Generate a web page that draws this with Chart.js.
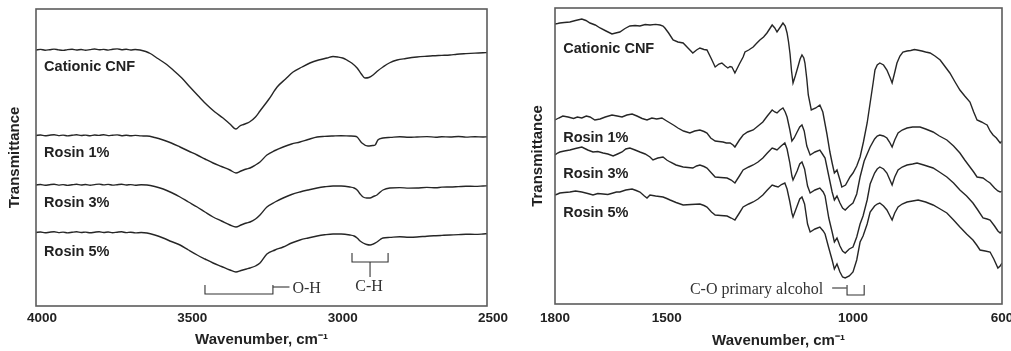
<!DOCTYPE html>
<html>
<head>
<meta charset="utf-8">
<title>FTIR spectra - cationic CNF and rosin</title>
<script src="https://cdn.jsdelivr.net/npm/chart.js@4.4.1/dist/chart.umd.min.js"></script>
<style>
    html, body { margin: 0; padding: 0; background: #fff; overflow: hidden; }
    #wrap { position: relative; width: 1011px; height: 351px; overflow: hidden; }
    .panel { position: absolute; top: 0; }
    #panel-high { left: 0; }
    #panel-low { left: 500px; }
</style>
</head>
<body>
<div id="wrap">
    <div class="panel" id="panel-high"><canvas id="ftir-high" width="520" height="351"></canvas></div>
    <div class="panel" id="panel-low"><canvas id="ftir-low" width="520" height="351"></canvas></div>
</div>
<script>
// 시리즈 이름
const seriesNames = ['Cationic CNF', 'Rosin 1%', 'Rosin 3%', 'Rosin 5%'];

// x축 눈금 (cm-1)
const highTicks = [4000, 3500, 3000, 2500];
const lowTicks = [1800, 1500, 1000, 600];

// 4000-2500 cm-1 구간 [파수, 투과율(a.u., 오프셋 포함)]
const cnfHigh = [[4000,256],[3985,256.6],[3970,255.8],[3955,256.3],[3940,256.9],[3925,256.1],[3910,255.6],[3895,256.4],[3880,256.8],[3865,256.0],[3850,256.5],[3835,255.7],[3820,256.4],[3805,257.0],[3790,256.2],[3775,256.6],[3760,255.9],[3745,256.7],[3730,257.1],[3715,256.3],[3700,256.8],[3685,256.0],[3670,256.5],[3654,256],[3635,254.5],[3620,252.5],[3598,248],[3570,242.5],[3544,236],[3515,228],[3488,219],[3460,210],[3431,201],[3405,194],[3378,188],[3355,182],[3335,177],[3322,180],[3310,181.5],[3290,184],[3270,189],[3255,195],[3225,207],[3198,219],[3170,227],[3145,234],[3115,239],[3089,243],[3060,246],[3032,248],[3012,249.5],[2996,249],[2980,248],[2966,246],[2950,243],[2932,238],[2918,232],[2906,228],[2893,228.5],[2879,231],[2862,235.5],[2846,239],[2825,243],[2799,246],[2770,247.5],[2733,249],[2700,249.8],[2680,250.2],[2650,250.6],[2623,251],[2600,251.8],[2570,252.4],[2540,252.9],[2513,253.2],[2500,253.5]];
const r1High = [[4000,170.5],[3985,171],[3970,170.2],[3955,170.8],[3940,171.3],[3925,170.4],[3910,170.9],[3895,170.1],[3880,170.7],[3865,171.2],[3850,170.5],[3835,170.9],[3820,170.2],[3805,171.0],[3790,170.6],[3775,171.3],[3760,170.4],[3745,170.8],[3730,171.1],[3715,170.3],[3700,170.7],[3685,170.2],[3670,170.6],[3650,170.1],[3631,170],[3605,168.5],[3577,166],[3550,163],[3521,159],[3493,155],[3464,151],[3438,147],[3411,143],[3383,139.5],[3355,136],[3335,133],[3318,135],[3300,137],[3288,138],[3270,141],[3255,144],[3232,151],[3205,155.5],[3178,159],[3150,162],[3122,164],[3095,166.5],[3065,169],[3040,169.6],[3012,170],[2985,170.3],[2956,170],[2940,169.8],[2932,169],[2916,163],[2896,160],[2880,160.5],[2872,161],[2863,166],[2846,168],[2820,168.6],[2790,169.2],[2760,168.7],[2733,169],[2700,169.4],[2670,168.8],[2650,169.3],[2623,169],[2595,169.5],[2570,168.9],[2540,169.3],[2513,169],[2500,169.2]];
const r3High = [[4000,121],[3985,121.5],[3970,120.7],[3955,121.3],[3940,121.8],[3925,120.9],[3910,121.4],[3895,120.6],[3880,121.2],[3865,121.7],[3850,121.0],[3835,121.5],[3820,120.8],[3805,121.4],[3790,121.9],[3775,121.1],[3760,121.6],[3745,120.9],[3730,121.3],[3715,121.7],[3700,121.0],[3685,121.4],[3670,120.8],[3650,121.2],[3631,121],[3605,119.5],[3577,117],[3550,113.5],[3521,109],[3493,104],[3464,99],[3438,94],[3411,89],[3383,85],[3355,81],[3335,79],[3318,81],[3300,83],[3288,84],[3270,87],[3255,91],[3232,99],[3205,104],[3178,108],[3150,111.5],[3122,114],[3095,116],[3065,118],[3040,119.2],[3012,120],[2985,120],[2956,119],[2942,118],[2932,116],[2922,112],[2912,109],[2900,108],[2889,108],[2878,109.5],[2866,111],[2855,114],[2846,116],[2823,118],[2790,118.4],[2760,117.9],[2733,118],[2700,118.6],[2670,118.2],[2650,118.9],[2623,119],[2595,119.4],[2570,119.8],[2540,119.6],[2513,120],[2500,120.2]];
const r5High = [[4000,73.5],[3985,74],[3970,73.2],[3955,73.8],[3940,74.3],[3925,73.4],[3910,73.9],[3895,73.1],[3880,73.7],[3865,74.2],[3850,73.5],[3835,73.9],[3820,73.2],[3805,73.8],[3790,74.3],[3775,73.5],[3760,74],[3745,73.3],[3730,73.8],[3715,74.2],[3700,73.4],[3685,73.8],[3670,73.1],[3650,73.5],[3631,73],[3605,71],[3577,68],[3550,64.5],[3521,61],[3493,56],[3464,51],[3438,47],[3411,43],[3383,39.5],[3355,36],[3335,34],[3318,35.5],[3300,37],[3288,38],[3270,40],[3255,43],[3232,52],[3205,56],[3178,59],[3150,63],[3122,66],[3095,68],[3065,70],[3040,71.2],[3012,72],[2985,72],[2956,71],[2942,70],[2932,68],[2922,65],[2912,63],[2900,61.5],[2889,61],[2878,62],[2866,64],[2855,66.5],[2846,68],[2823,68.6],[2790,69.2],[2760,68.8],[2733,69],[2700,69.8],[2670,70.3],[2650,70.6],[2623,71],[2595,71.4],[2570,71.8],[2540,71.6],[2513,72],[2500,72.3]];

// 1800-600 cm-1 구간
const cnfLow = [[1800,280],[1793,280.5],[1787,281],[1775,281.5],[1760,282],[1745,283.5],[1728,285],[1717,283.5],[1706,281],[1692,279],[1679,276],[1663,273],[1647,270],[1637,271],[1626,272],[1612,275.5],[1599,278],[1585,278.5],[1572,278],[1558,279.5],[1545,279],[1530,279.6],[1518,279],[1510,278],[1505,276],[1495,271],[1483,264],[1470,262],[1456,261],[1443,256],[1430,251],[1420,254],[1411,256],[1400,254.5],[1392,254],[1380,245],[1370,237],[1360,240],[1352,241],[1343,238],[1336,236],[1330,237.5],[1325,237],[1317,231],[1305,240],[1295,247],[1290,252],[1280,254],[1268,257],[1258,261],[1250,264],[1240,267],[1231,271],[1224,275],[1217,279],[1210,276],[1204,272],[1195,277],[1188,281],[1182,278],[1177,271],[1173,262],[1169,250],[1165,233],[1161,221],[1155,228],[1148,237],[1142,245],[1137,249],[1132,246],[1129,241],[1124,225],[1120,209],[1112,194],[1100,196],[1089,199],[1081,192],[1070,170],[1062,152],[1056,141],[1050,131],[1043,134],[1035,124],[1030,117],[1020,119],[1008,127],[1000,131],[990,138],[981,147],[972,162],[962,181],[954,201],[946,221],[941,234],[935,239],[928,241],[918,239],[909,234],[900,226],[895,221],[889,230],[882,241],[874,248],[866,252],[855,253],[845,253.5],[835,254.5],[828,254],[815,253],[805,252],[793,251],[780,248],[766,244],[752,237],[740,231],[726,222],[713,214],[700,208],[686,202],[676,192],[667,184],[655,182],[645,180],[640,179],[632,173],[624,169],[615,166],[605,161],[600,163]];
const r1Low = [[1800,184],[1790,186],[1779,188],[1765,187],[1750,185.5],[1740,187],[1728,186],[1716,188],[1706,187],[1693,184],[1679,185],[1665,187],[1647,189],[1633,188],[1620,187],[1607,189],[1593,190],[1580,188],[1566,185.5],[1553,184],[1540,186],[1527,185],[1513,186],[1500,183],[1491,181],[1480,178.5],[1470,176],[1455,173],[1438,171],[1425,173],[1411,174],[1400,172.5],[1392,171],[1382,166],[1370,163],[1360,162.5],[1349,162],[1340,161],[1330,161],[1322,159],[1317,157],[1305,164],[1295,169],[1283,172],[1268,174],[1255,178],[1242,182],[1230,188],[1217,194],[1210,192],[1204,191],[1196,194],[1188,196],[1182,192],[1177,187],[1170,175],[1164,163],[1158,166],[1150,172],[1143,177],[1137,179],[1131,173],[1124,158],[1115,149],[1102,152],[1089,154],[1082,150],[1075,146],[1065,128],[1056,112],[1050,104],[1043,108],[1035,101],[1028,96],[1021,94],[1010,98],[1000,101],[990,110],[981,127],[970,143],[962,150],[954,157],[942,165],[935,168],[928,169],[918,168],[909,166],[902,162],[895,157],[888,164],[879,171],[868,174],[855,176],[840,177],[820,177],[805,175],[785,172],[768,168],[748,164],[730,158],[713,151],[700,144],[686,137],[676,132],[667,127],[659,126.5],[651,126],[640,123],[632,121],[620,116],[611,113],[605,112],[600,113]];
const r3Low = [[1800,149],[1793,151],[1787,152],[1775,153],[1760,154],[1745,155.5],[1728,157],[1712,154],[1698,152],[1685,152.5],[1671,151],[1658,150],[1644,148],[1632,150],[1620,152],[1610,155],[1599,156],[1585,154],[1572,152],[1558,150],[1545,147],[1537,144],[1524,146],[1510,147],[1500,144],[1491,142],[1475,139],[1456,137],[1443,136.5],[1430,136],[1420,138],[1411,139],[1400,137.5],[1392,136],[1380,131],[1370,127],[1355,126.5],[1338,126],[1327,124],[1317,121],[1305,128],[1295,134],[1280,137],[1268,139],[1255,142],[1242,146],[1230,151],[1217,156],[1210,155],[1204,154],[1193,158],[1183,161],[1177,155],[1170,142],[1164,128],[1161,124],[1150,133],[1143,140],[1137,142],[1130,135],[1122,118],[1115,111],[1102,114],[1089,116],[1080,112],[1075,108],[1065,86],[1056,72],[1050,62],[1043,66],[1035,58],[1028,53],[1021,51],[1010,55],[1000,57],[990,67],[981,80],[973,88],[962,104],[954,120],[942,131],[935,135],[928,137],[918,135],[909,131],[902,125],[895,119],[888,127],[879,134],[868,137],[855,139],[840,140],[828,141],[810,139],[785,136],[768,132],[748,127],[730,121],[713,114],[695,108],[678,101],[665,94],[651,86],[640,85],[632,84],[620,78],[611,73],[605,71],[600,73]];
const r5Low = [[1800,109],[1793,110],[1787,111],[1775,111.5],[1760,112],[1745,113],[1728,112],[1712,110.5],[1698,109],[1685,110.5],[1671,110],[1658,109.5],[1644,111],[1635,112],[1626,112],[1610,114],[1593,115],[1582,113.5],[1572,112],[1560,108],[1553,106],[1545,109],[1530,108],[1510,107],[1500,105.5],[1491,104],[1475,101.5],[1456,99],[1435,99.5],[1411,100],[1400,98.5],[1392,97],[1380,92],[1370,89],[1355,88.5],[1338,88],[1327,86],[1317,84],[1305,91],[1295,97],[1280,100],[1268,102],[1255,105],[1242,109],[1230,114],[1217,119],[1210,118],[1201,117],[1192,119.5],[1183,121],[1177,115],[1170,103],[1164,91],[1161,87],[1150,98],[1143,105],[1137,107],[1130,100],[1122,80],[1115,72],[1102,75],[1089,77],[1080,73],[1075,70],[1065,56],[1056,44],[1050,35],[1043,40],[1035,32],[1028,27],[1021,26],[1010,28],[1000,32],[990,44],[981,62],[973,68],[962,80],[954,92],[942,98],[935,100],[928,101],[918,98],[909,94],[902,89],[895,84],[888,91],[879,97],[868,100],[855,102],[840,103],[825,104],[805,102],[785,99],[766,95],[748,91],[730,84],[713,77],[695,70],[678,64],[668,59],[659,54],[645,53],[632,52],[622,45],[611,36],[605,38],[600,41]];

// 밴드 표시 (괄호, 지시선)
const ohBracket = [[3438,21],[3438,12],[3212,12],[3212,21]];
const ohLead = [[3212,19],[3157,19]];
const chBracket = [[2949,53],[2949,44],[2829,44],[2829,53]];
const chStem = [[2889,44],[2889,29]];
const coLead = [[1056,16],[1017,16]];
const coBracket = [[1016,19],[1016,9],[970,9],[970,19]];

const INK = '#262626';
const SANS = "'Liberation Sans', Arial, sans-serif";
const SERIF = "'Liberation Serif', 'Times New Roman', serif";

/**
 * 시리즈 이름, 밴드 표시, 테두리를 그리는 플러그인
 */
function makeAnnotations(labels, paths, notes) {
    return {
        id: 'annotations',
        afterDatasetsDraw(chart) {
            const { ctx, chartArea, scales: { x, y } } = chart;
            ctx.save();

            // 테두리
            ctx.strokeStyle = '#5c5c5c';
            ctx.lineWidth = 1.6;
            ctx.strokeRect(chartArea.left, chartArea.top,
                chartArea.right - chartArea.left, chartArea.bottom - chartArea.top);

            // 시리즈 이름
            ctx.fillStyle = '#222';
            ctx.font = 'bold 14.5px ' + SANS;
            ctx.textBaseline = 'middle';
            ctx.textAlign = 'left';
            labels.forEach(l => {
                ctx.fillText(l.text, x.getPixelForValue(l.at[0]), y.getPixelForValue(l.at[1]));
            });

            // 괄호
            ctx.strokeStyle = '#333';
            ctx.lineWidth = 1.1;
            paths.forEach(p => {
                ctx.beginPath();
                p.forEach(([w, v], i) => {
                    const px = x.getPixelForValue(w);
                    const py = y.getPixelForValue(v);
                    if (i === 0) ctx.moveTo(px, py); else ctx.lineTo(px, py);
                });
                ctx.stroke();
            });

            // 밴드 이름
            ctx.fillStyle = '#333';
            ctx.font = '16px ' + SERIF;
            notes.forEach(n => {
                ctx.textAlign = n.align;
                ctx.fillText(n.text, x.getPixelForValue(n.at[0]), y.getPixelForValue(n.at[1]));
            });
            ctx.restore();
        }
    };
}

function toPoints(rows) {
    return rows.map(([w, v]) => ({ x: w, y: v }));
}

function buildChart(canvasId, opts) {
    const ctx = document.getElementById(canvasId).getContext('2d');
    return new Chart(ctx, {
        type: 'line',
        data: {
            datasets: opts.series.map((rows, i) => ({
                label: seriesNames[i],
                data: toPoints(rows),
                borderColor: INK,
                borderWidth: 1.4,
                pointRadius: 0,
                fill: false,
                cubicInterpolationMode: opts.smooth ? 'monotone' : 'default',
                tension: 0
            }))
        },
        options: {
            responsive: false,
            animation: false,
            devicePixelRatio: 1,
            events: [],
            layout: { padding: { left: 0, right: opts.padRight, top: opts.padTop, bottom: 0 } },
            plugins: {
                legend: { display: false },
                tooltip: { enabled: false }
            },
            scales: {
                x: {
                    type: 'linear',
                    reverse: true,
                    min: opts.range[0],
                    max: opts.range[1],
                    afterBuildTicks: s => { s.ticks = opts.ticks.map(v => ({ value: v })); },
                    afterFit: s => { s.height = opts.xHeight; },
                    grid: { display: false, drawTicks: false },
                    border: { display: false },
                    ticks: {
                        padding: opts.tickPad,
                        labelOffset: opts.labelOffset,
                        color: '#222',
                        maxRotation: 0,
                        font: { family: SANS, size: 13.5, weight: 'bold' },
                        callback: v => String(v)
                    },
                    title: {
                        display: true,
                        text: 'Wavenumber, cm\u207B\u00B9',
                        color: '#222',
                        font: { family: SANS, size: 15, weight: 'bold' },
                        padding: { top: 0, bottom: opts.xTitlePad }
                    }
                },
                y: {
                    min: 0,
                    max: opts.yMax,
                    afterFit: s => { s.width = opts.yWidth; },
                    grid: { display: false, drawTicks: false },
                    border: { display: false },
                    ticks: { display: false },
                    title: {
                        display: true,
                        text: 'Transmittance',
                        color: '#222',
                        font: { family: SANS, size: 15, weight: 'bold' },
                        padding: { top: opts.yTitlePad, bottom: 0 }
                    }
                }
            }
        },
        plugins: [makeAnnotations(opts.labels, opts.paths, opts.notes)]
    });
}

// 4000-2500 cm-1 (O-H, C-H)
buildChart('ftir-high', {
    series: [cnfHigh, r1High, r3High, r5High],
    smooth: true,
    range: [2500, 4000],
    ticks: highTicks,
    yMax: 297,
    padTop: 9,
    padRight: 33,
    yWidth: 36,
    xHeight: 45,
    tickPad: 4,
    labelOffset: 6,
    xTitlePad: 2,
    yTitlePad: 6,
    labels: [
        { text: seriesNames[0], at: [3973, 239] },
        { text: seriesNames[1], at: [3973, 153] },
        { text: seriesNames[2], at: [3973, 103] },
        { text: seriesNames[3], at: [3973, 54] }
    ],
    paths: [ohBracket, ohLead, chBracket, chStem],
    notes: [
        { text: 'O-H', at: [3147, 17], align: 'left' },
        { text: 'C-H', at: [2892, 19], align: 'center' }
    ]
});

// 1800-600 cm-1 (C-O)
buildChart('ftir-low', {
    series: [cnfLow, r1Low, r3Low, r5Low],
    smooth: false,
    range: [600, 1800],
    ticks: lowTicks,
    yMax: 296,
    padTop: 8,
    padRight: 18,
    yWidth: 55,
    xHeight: 47,
    tickPad: 6,
    labelOffset: 0,
    xTitlePad: 1,
    yTitlePad: 29,
    labels: [
        { text: seriesNames[0], at: [1778, 255] },
        { text: seriesNames[1], at: [1778, 166] },
        { text: seriesNames[2], at: [1778, 130] },
        { text: seriesNames[3], at: [1778, 91] }
    ],
    paths: [coLead, coBracket],
    notes: [
        { text: 'C-O primary alcohol', at: [1080, 14], align: 'right' }
    ]
});
</script>
</body>
</html>
